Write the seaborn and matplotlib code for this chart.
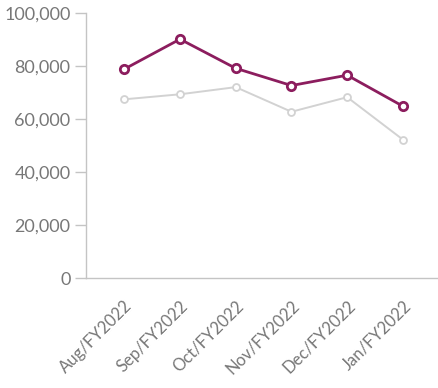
import matplotlib
matplotlib.use("Agg")
import matplotlib.pyplot as plt
import pandas as pd
import seaborn as sns
from matplotlib.ticker import FuncFormatter

MONTHS = ["Aug/FY2022", "Sep/FY2022", "Oct/FY2022", "Nov/FY2022", "Dec/FY2022", "Jan/FY2022"]
CURRENT = [78900, 90200, 79200, 72700, 76600, 64900]
PRIOR = [67500, 69400, 72100, 62800, 68300, 52300]

PURPLE = "#8c1d5e"
GREY = "#d2d2d2"
TEXT = "#777777"


def main():
    sns.set_theme(style="white")
    plt.rcParams["font.family"] = ["Lato", "DejaVu Sans"]

    df = pd.DataFrame({"month": MONTHS, "current": CURRENT, "prior": PRIOR})

    fig = plt.figure(figsize=(4.38, 3.88), dpi=100)
    ax = fig.add_axes([0.196, 0.283, 0.804, 0.683])

    sns.lineplot(data=df, x="month", y="prior", ax=ax, color=GREY, linewidth=1.4,
                 marker="o", markersize=5, markerfacecolor="white",
                 markeredgecolor=GREY, markeredgewidth=1.3, sort=False)
    sns.lineplot(data=df, x="month", y="current", ax=ax, color=PURPLE, linewidth=2.0,
                 marker="o", markersize=6, markerfacecolor="white",
                 markeredgecolor=PURPLE, markeredgewidth=2.0, sort=False)

    ax.set_ylim(0, 100000)
    ax.set_xlim(-0.69, 5.63)
    ax.set_yticks(range(0, 100001, 20000))
    ax.yaxis.set_major_formatter(FuncFormatter(lambda v, _: f"{int(v):,}"))
    ax.set_xlabel("")
    ax.set_ylabel("")

    for side in ("top", "right"):
        ax.spines[side].set_visible(False)
    for side in ("left", "bottom"):
        ax.spines[side].set_color("#c4c4c4")
        ax.spines[side].set_linewidth(1.0)

    ax.tick_params(axis="y", left=True, length=8, width=1.0, color="#c4c4c4",
                   labelsize=13, labelcolor=TEXT, pad=3)
    ax.tick_params(axis="x", bottom=False, labelsize=12, labelcolor=TEXT, pad=8)
    plt.setp(ax.get_xticklabels(), rotation=45, ha="right", rotation_mode="anchor")

    fig.savefig("out.png", dpi=100)
    plt.close(fig)


if __name__ == "__main__":
    main()
